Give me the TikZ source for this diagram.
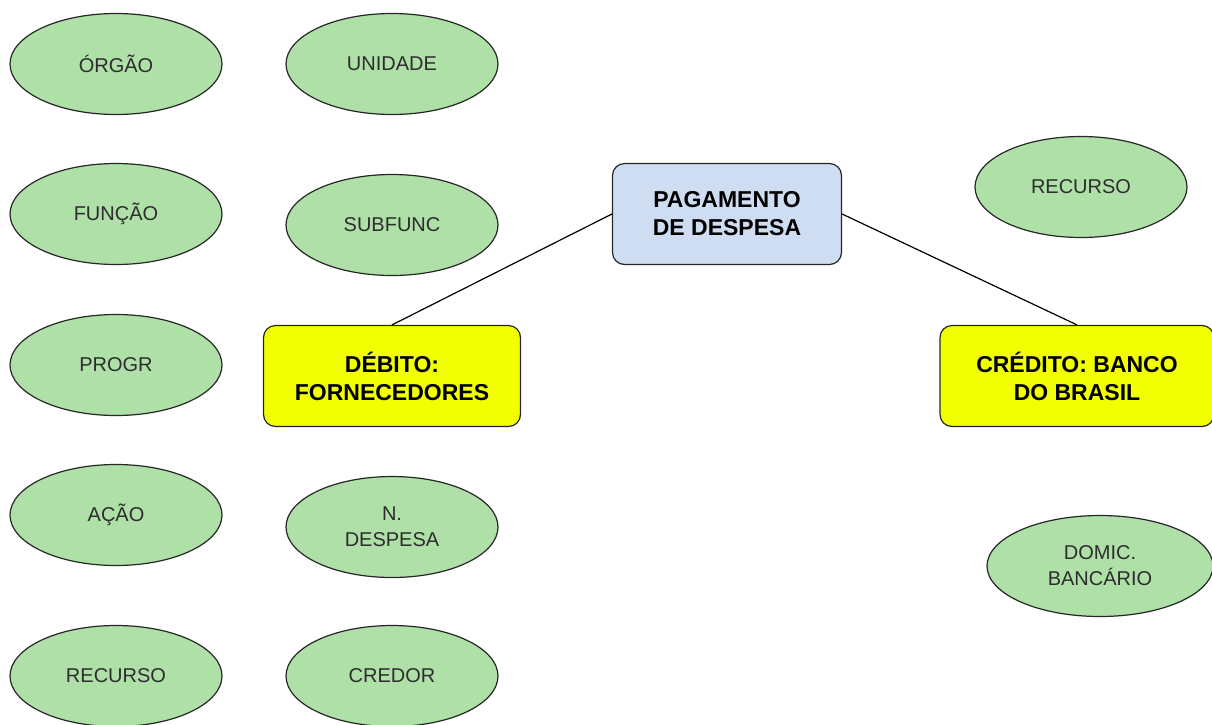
\documentclass[tikz,border=0pt]{standalone}
\usepackage{fontspec}
\setmainfont{Liberation Sans}
\usetikzlibrary{shapes.geometric}
\definecolor{campoverde}{RGB}{174,224,168}
\definecolor{caixaazul}{RGB}{207,221,243}
\definecolor{caixaamarela}{RGB}{242,255,0}
\definecolor{textocinza}{RGB}{45,45,45}

\begin{document}
\begin{tikzpicture}[x=1pt,y=-1pt,line width=1.2pt,
  campo/.style={ellipse,draw=black!85,fill=campoverde,minimum width=212pt,minimum height=101pt,
    inner sep=0pt,align=center,text=textocinza,font=\fontsize{20}{26}\selectfont},
  conta/.style={draw=black!85,rounded corners=12pt,fill=caixaamarela,minimum height=101pt,
    inner sep=0pt,align=center,font=\bfseries\fontsize{23}{28}\selectfont}]
\useasboundingbox (0,0) rectangle (1212,724);

% campos do lado do debito
\node [campo] (orgao) at (116,64) {ÓRGÃO};
\node [campo] (unidade) at (392,64) {UNIDADE};
\node [campo] (funcao) at (116,214) {FUNÇÃO};
\node [campo] (subfunc) at (392,225) {SUBFUNC};
\node [campo] (progr) at (116,365) {PROGR};
\node [campo] (acao) at (116,515) {AÇÃO};
\node [campo] (ndespesa) at (392,527) {N.\\DESPESA};
\node [campo] (recursodeb) at (116,676) {RECURSO};
\node [campo] (credor) at (392,676) {CREDOR};

% campos do lado do credito
\node [campo] (recursocred) at (1081,187) {RECURSO};
\node [campo,minimum width=226pt] (domic) at (1100,566) {DOMIC.\\BANCÁRIO};

% lancamento
\node [conta,fill=caixaazul,minimum width=229pt] (pagamento) at (727,214) {PAGAMENTO\\DE DESPESA};
\node [conta,minimum width=257pt] (debito) at (392,376) {DÉBITO:\\FORNECEDORES};
\node [conta,minimum width=274pt] (credito) at (1077,376) {CRÉDITO: BANCO\\DO BRASIL};

\draw (pagamento.west) -- (debito.north);
\draw (pagamento.east) -- (credito.north);
\end{tikzpicture}
\end{document}
